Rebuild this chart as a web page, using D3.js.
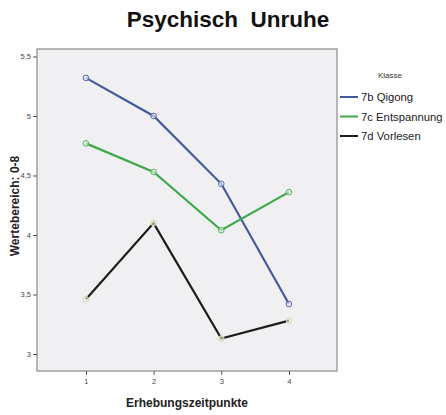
<!DOCTYPE html>
<html><head><meta charset="utf-8">
<script src="https://cdn.jsdelivr.net/npm/d3@7"></script>
<style>body{margin:0;background:#fff;} text{font-family:"Liberation Sans",Arial,sans-serif;}</style>
</head><body>
<svg id="c" width="446" height="415"></svg>
<script>
const timepoints = [1, 2, 3, 4];
const seriesNames = ["7b Qigong", "7c Entspannung", "7d Vorlesen"];
const qigong = [5.32, 5.00, 4.43, 3.42];
const entspannung = [4.77, 4.53, 4.04, 4.36];
const vorlesen = [3.46, 4.10, 3.13, 3.28];
const yTicks = [3, 3.5, 4, 4.5, 5, 5.5];
const colors = ["#43589f", "#3fa84b", "#1c1c1c"];
const markerFill = ["#eef0f6", "#e8f3e6", "#f3f1dc"];
const markerStroke = ["#5566b0", "#57b060", "#d8d4b0"];
const seriesValues = [qigong, entspannung, vorlesen];

const svg = d3.select("#c");
const L = 37, R = 337, T = 49, B = 371;
const x = d3.scaleLinear().domain([0.277, 4.71]).range([L, R]);
const y = d3.scaleLinear().domain([2.857, 5.563]).range([B, T]);

svg.append("rect").attr("x", L).attr("y", T).attr("width", R - L).attr("height", B - T)
  .attr("fill", "#f0f0f2").attr("stroke", "#8a8a8a").attr("stroke-width", 1.2);

const fmt = d => String(d).replace(".", ",");
const yAxis = svg.append("g").attr("transform", `translate(${L},0)`)
  .call(d3.axisLeft(y).tickValues(yTicks).tickFormat(fmt).tickSize(4).tickPadding(2));
yAxis.select(".domain").remove();
yAxis.selectAll("line").attr("stroke", "#555");
yAxis.selectAll("text").attr("fill", "#444").style("font-size", "7.5px");

const xAxis = svg.append("g").attr("transform", `translate(0,${B})`)
  .call(d3.axisBottom(x).tickValues(timepoints).tickFormat(d3.format("d")).tickSize(4).tickPadding(4));
xAxis.select(".domain").remove();
xAxis.selectAll("line").attr("stroke", "#555");
xAxis.selectAll("text").attr("fill", "#444").style("font-size", "7.5px");

const line = d3.line().x((d, i) => x(timepoints[i])).y(d => y(d));
seriesValues.forEach((vals, k) => {
  svg.append("path").datum(vals).attr("d", line).attr("fill", "none")
    .attr("stroke", colors[k]).attr("stroke-width", 2.2);
  svg.append("g").selectAll("circle").data(vals).join("circle")
    .attr("cx", (d, i) => x(timepoints[i])).attr("cy", d => y(d)).attr("r", 2.8)
    .attr("fill", markerFill[k]).attr("fill-opacity", 0.6)
    .attr("stroke", markerStroke[k]).attr("stroke-width", 1);
});

svg.append("text").attr("x", 228).attr("y", 27).attr("text-anchor", "middle")
  .style("font-family", "'Liberation Sans Narrow','Liberation Sans',Arial,sans-serif")
  .style("font-size", "22.5px").style("font-weight", "bold").attr("fill", "#111")
  .attr("xml:space", "preserve").text("Psychisch  Unruhe");

svg.append("text").attr("transform", "translate(19,206) rotate(-90)").attr("text-anchor", "middle")
  .style("font-size", "12px").style("font-weight", "bold").attr("fill", "#222")
  .text("Wertebereich: 0-8");

svg.append("text").attr("x", 187).attr("y", 407).attr("text-anchor", "middle")
  .style("font-size", "12px").style("font-weight", "bold").attr("fill", "#222")
  .text("Erhebungszeitpunkte");

svg.append("text").attr("x", 390).attr("y", 78).attr("text-anchor", "middle")
  .style("font-size", "8px").attr("fill", "#333").text("Klasse");
seriesNames.forEach((n, k) => {
  const yy = 97 + k * 19.5;
  svg.append("line").attr("x1", 340).attr("x2", 358).attr("y1", yy).attr("y2", yy)
    .attr("stroke", colors[k]).attr("stroke-width", 2);
  svg.append("text").attr("x", 361).attr("y", yy + 4).style("font-size", "11.3px")
    .attr("fill", "#222").text(n);
});
</script>
</body></html>
